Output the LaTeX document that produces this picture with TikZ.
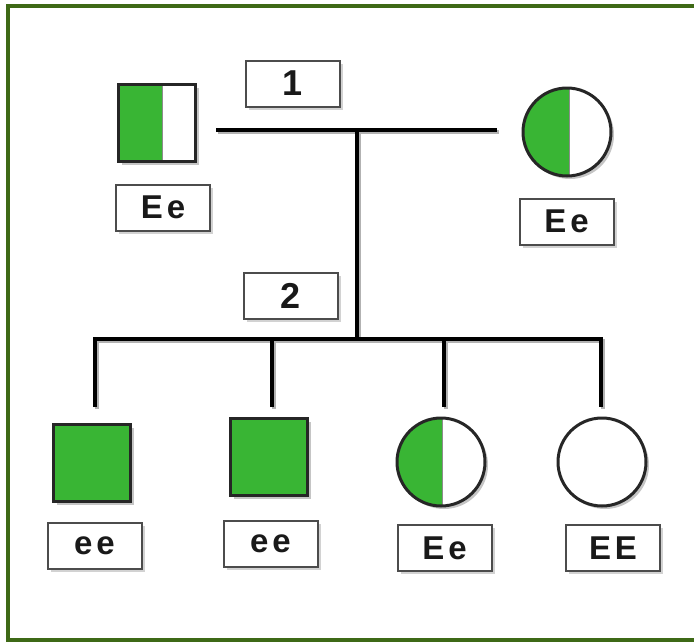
\documentclass[tikz,border=0pt]{standalone}
\usepackage{fontspec}
\setmainfont{Liberation Sans}
\usetikzlibrary{shadows}
\definecolor{framegreen}{RGB}{62,105,22}
\definecolor{gfill}{RGB}{57,181,52}
\begin{document}
\begin{tikzpicture}[x=1pt,y=-1pt,
  sym/.style={draw=black!85, line width=3pt, inner sep=0pt,
    drop shadow={shadow xshift=3pt,shadow yshift=-3pt,fill=black!45,opacity=0.5}},
  sq/.style={sym, rectangle, minimum width=77pt, minimum height=77pt},
  ci/.style={sym, circle, minimum size=88pt},
  full/.style={fill=gfill},
  half/.style={fill=white, path picture={
    \fill[gfill] (path picture bounding box.north west) rectangle ([xshift=#1]path picture bounding box.south);
    \draw[black!45, line width=1pt] ([xshift=#1]path picture bounding box.north) -- ([xshift=#1]path picture bounding box.south);}},
  lab/.style={draw=black!70, line width=2pt, fill=white, minimum width=94pt, minimum height=46pt,
    inner sep=0pt, text=black!90, font=\bfseries\fontsize{33}{33}\selectfont\addfontfeatures{LetterSpace=12},
    drop shadow={shadow xshift=3pt,shadow yshift=-3pt,fill=black!35,opacity=0.5}},
  numlab/.style={lab, font=\bfseries\fontsize{36}{36}\selectfont},
  conn/.style={line width=4pt, black,
    preaction={draw=black!30, line width=4pt, transform canvas={xshift=2pt,yshift=-2pt}}},
  framestyle/.style={draw=framegreen, line width=4pt}
]
\useasboundingbox (0,0) rectangle (694,643);
\fill[white] (0,0) rectangle (694,643);
\draw[framestyle] (700,6) -- (8,6) -- (8,640) -- (700,640);

% generation labels
\node[numlab] (g1) at (292.5,83.5) {1};
\node[numlab] (g2) at (291,296) {2};

% parents
\node[sq, half=5pt] (father) at (157,123) {};
\node[lab] (lfather) at (163,207.5) {Ee};
\node[ci, half=2pt] (mother) at (567,132) {};
\node[lab] (lmother) at (566.5,221.5) {Ee};

% children
\node[sq, full] (c1) at (92,463) {};
\node[lab] (l1) at (94.5,546) {ee};
\node[sq, full] (c2) at (269,457) {};
\node[lab] (l2) at (270.5,544) {ee};
\node[ci, half=1pt] (c3) at (441,462) {};
\node[lab] (l3) at (444.5,548) {Ee};
\node[ci, fill=white] (c4) at (602,462) {};
\node[lab] (l4) at (613,548) {EE};

% connector points
\coordinate (m1) at (216,130);
\coordinate (m2) at (497,130);
\coordinate (mc) at (357,130);
\coordinate (sc) at (357,339);
\coordinate (s1) at (95,339);
\coordinate (s2) at (272,339);
\coordinate (s3) at (444,339);
\coordinate (s4) at (601,339);
\coordinate (d1) at (95,407);
\coordinate (d2) at (272,407);
\coordinate (d3) at (444,407);
\coordinate (d4) at (601,407);

\draw[conn] (m1) -- (m2);
\draw[conn] (mc) -- (sc);
\draw[conn] ([xshift=-2pt]s1) -- ([xshift=2pt]s4);
\draw[conn] (s1) -- (d1);
\draw[conn] (s2) -- (d2);
\draw[conn] (s3) -- (d3);
\draw[conn] (s4) -- (d4);
\end{tikzpicture}
\end{document}
